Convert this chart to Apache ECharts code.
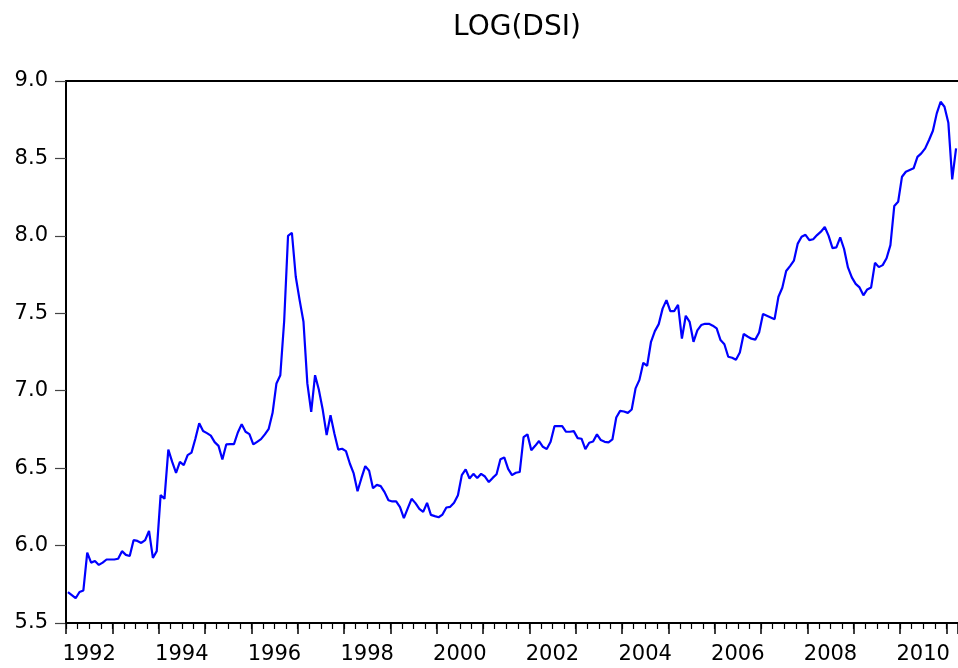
<!DOCTYPE html>
<html>
<head>
<meta charset="utf-8">
<title>LOG(DSI)</title>
<script src="https://cdn.jsdelivr.net/npm/echarts@6/dist/echarts.min.js"></script>
<style>
  html, body { margin: 0; padding: 0; background: #fff; }
  #chart { width: 958px; height: 668px; }
</style>
</head>
<body>
<div id="chart"></div>
<script>
// monthly series, 1992M01 .. 2011M03
const startYear = 1992;
const logDsi = [
  5.70, 5.68, 5.66, 5.70, 5.71, 5.955, 5.89, 5.90, 5.875, 5.89, 5.91, 5.91,           // 1992
  5.91, 5.915, 5.964, 5.94, 5.933, 6.035, 6.03, 6.017, 6.035, 6.095, 5.92, 5.964,     // 1993
  6.326, 6.302, 6.62, 6.54, 6.47, 6.54, 6.52, 6.584, 6.60, 6.69, 6.79, 6.74,          // 1994
  6.726, 6.71, 6.668, 6.644, 6.556, 6.653, 6.655, 6.655, 6.73, 6.784, 6.735, 6.72,    // 1995
  6.653, 6.67, 6.687, 6.718, 6.754, 6.857, 7.047, 7.10, 7.45, 8.00, 8.02, 7.736,      // 1996
  7.585, 7.445, 7.047, 6.864, 7.10, 7.004, 6.875, 6.713, 6.842, 6.724, 6.62, 6.625,   // 1997
  6.61, 6.53, 6.466, 6.351, 6.435, 6.513, 6.483, 6.37, 6.392, 6.384, 6.345, 6.293,    // 1998
  6.285, 6.285, 6.248, 6.177, 6.24, 6.302, 6.274, 6.237, 6.218, 6.276, 6.198, 6.19,   // 1999
  6.183, 6.20, 6.246, 6.25, 6.276, 6.325, 6.455, 6.492, 6.433, 6.463, 6.437, 6.463,   // 2000
  6.446, 6.41, 6.437, 6.461, 6.558, 6.569, 6.495, 6.455, 6.47, 6.475, 6.70, 6.718,    // 2001
  6.616, 6.644, 6.675, 6.638, 6.623, 6.67, 6.771, 6.771, 6.771, 6.735, 6.735, 6.739,  // 2002
  6.694, 6.69, 6.623, 6.664, 6.672, 6.718, 6.681, 6.67, 6.666, 6.685, 6.827, 6.87,    // 2003
  6.866, 6.857, 6.879, 7.015, 7.07, 7.18, 7.161, 7.316, 7.385, 7.43, 7.53, 7.585,     // 2004
  7.514, 7.514, 7.555, 7.336, 7.484, 7.445, 7.316, 7.39, 7.424, 7.432, 7.432, 7.42,   // 2005
  7.402, 7.327, 7.30, 7.219, 7.213, 7.20, 7.247, 7.366, 7.35, 7.336, 7.33, 7.376,     // 2006
  7.495, 7.484, 7.473, 7.462, 7.607, 7.665, 7.773, 7.805, 7.84, 7.95, 7.994, 8.007,   // 2007
  7.972, 7.978, 8.005, 8.027, 8.057, 8.00, 7.921, 7.926, 7.99, 7.915, 7.796, 7.732,   // 2008
  7.69, 7.667, 7.616, 7.654, 7.667, 7.826, 7.798, 7.811, 7.855, 7.94, 8.193, 8.22,    // 2009
  8.382, 8.414, 8.425, 8.436, 8.51, 8.533, 8.565, 8.619, 8.679, 8.791, 8.866, 8.834,  // 2010
  8.731, 8.365, 8.565                                                                 // 2011
];
const yTicks = [5.5, 6.0, 6.5, 7.0, 7.5, 8.0, 8.5, 9.0];
const yearLabels = ['1992', '1994', '1996', '1998', '2000', '2002', '2004', '2006', '2008', '2010'];

// category per month, e.g. 1994M07
const months = logDsi.map((v, i) =>
  (startYear + Math.floor(i / 12)) + 'M' + String(i % 12 + 1).padStart(2, '0'));

const font = 'DejaVu Sans';
const chart = echarts.init(document.getElementById('chart'), null, { renderer: 'canvas' });

chart.setOption({
  backgroundColor: '#ffffff',
  animation: false,
  title: {
    text: 'LOG(DSI)',
    left: 512,
    top: 9,
    textAlign: 'center',
    textStyle: { fontFamily: font, fontSize: 28, fontWeight: 'normal', color: '#000' }
  },
  grid: { left: 66, right: 0, top: 81, bottom: 45, containLabel: false },
  xAxis: [
    {
      // main axis: year ticks + labels in the middle of the year
      type: 'category',
      data: months,
      boundaryGap: true,
      position: 'bottom',
      axisLine: { show: true, lineStyle: { color: '#000', width: 2 } },
      axisTick: {
        show: true,
        interval: (i) => i % 12 === 0,
        length: 11,
        lineStyle: { color: '#000', width: 1.5 }
      },
      axisLabel: {
        show: true,
        interval: (i) => i % 24 === 6 && yearLabels.indexOf(months[i].slice(0, 4)) >= 0,
        formatter: (v) => v.slice(0, 4),
        fontFamily: font,
        fontSize: 21,
        color: '#000',
        margin: 21,
        padding: [0, 4, 0, 0]
      },
      splitLine: { show: false }
    },
    {
      // quarter ticks
      type: 'category',
      data: months,
      boundaryGap: true,
      position: 'bottom',
      axisLine: { show: false },
      axisTick: {
        show: true,
        interval: (i) => i % 3 === 0,
        length: 6,
        lineStyle: { color: '#000', width: 1.2 }
      },
      axisLabel: { show: false },
      splitLine: { show: false }
    },
    {
      // top frame line
      type: 'category',
      data: months,
      position: 'top',
      axisLine: { show: true, lineStyle: { color: '#000', width: 2 } },
      axisTick: { show: false },
      axisLabel: { show: false },
      splitLine: { show: false }
    }
  ],
  yAxis: {
    type: 'value',
    min: yTicks[0],
    max: yTicks[yTicks.length - 1],
    interval: 0.5,
    axisLine: { show: true, lineStyle: { color: '#000', width: 2 } },
    axisTick: { show: true, length: 11, lineStyle: { color: '#444', width: 1.2 } },
    axisLabel: {
      formatter: (v) => v.toFixed(1),
      fontFamily: font,
      fontSize: 21,
      color: '#000',
      margin: 18
    },
    splitLine: { show: false }
  },
  series: [{
    name: 'LOG(DSI)',
    type: 'line',
    xAxisIndex: 0,
    data: logDsi,
    showSymbol: false,
    symbol: 'none',
    lineStyle: { color: '#0000ff', width: 2.2 }
  }]
});
</script>
</body>
</html>
